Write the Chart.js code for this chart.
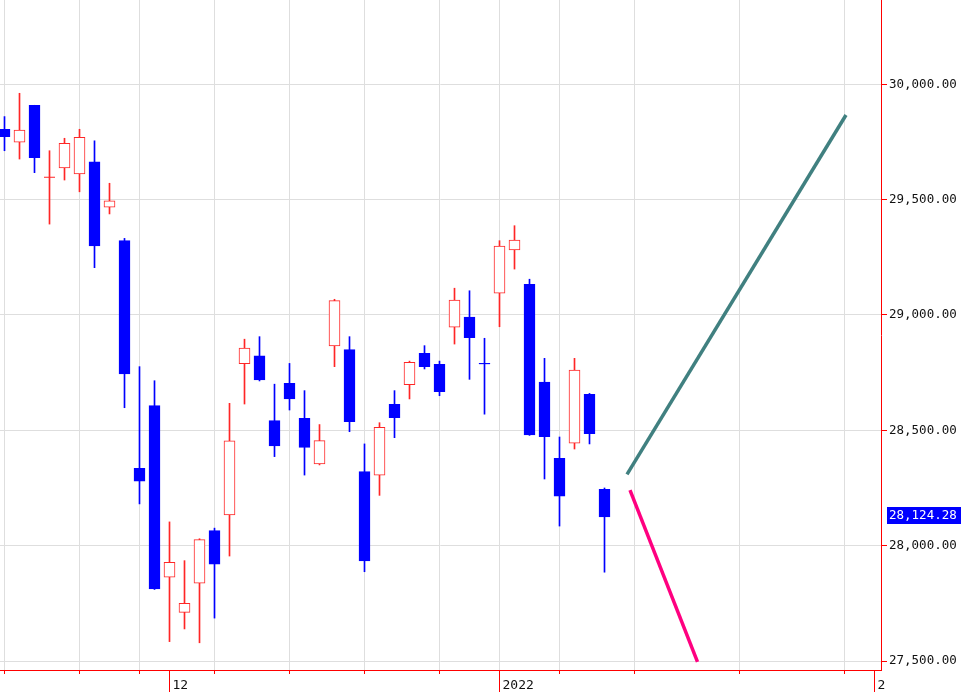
<!DOCTYPE html>
<html lang="ja">
<head>
<meta charset="UTF-8">
<title>日足チャート</title>
<script src="https://cdn.jsdelivr.net/npm/chart.js@4.4.1/dist/chart.umd.min.js"></script>
<style>
  html, body { margin: 0; padding: 0; background: #fff; }
</style>
</head>
<body>
<canvas id="myChart" width="961" height="692"></canvas>
<script>
// trading days (one slot each on the x axis)
const dates = ['11/15','11/16','11/17','11/18','11/19','11/22','11/24','11/25','11/26','11/29','11/30',
  '12/1','12/2','12/3','12/6','12/7','12/8','12/9','12/10','12/13','12/14','12/15','12/16','12/17',
  '12/20','12/21','12/22','12/23','12/24','12/27','12/28','12/29','12/30',
  '1/4','1/5','1/6','1/7','1/11','1/12','1/13','1/14'];
const opens  = [29805,29749,29909,29597,29638,29612,29664,29467,29322,28335,28607,
  27863,27711,27837,28065,28133,28789,28823,28542,28704,28552,28354,28866,28850,
  28321,28306,28613,28698,28834,28786,28947,28991,28790,
  29094,29282,29133,28709,28379,28444,28656,28244];
const highs  = [29860,29961,29909,29712,29766,29805,29755,29571,29332,28776,28715,
  28103,27935,28030,28076,28617,28895,28906,28700,28790,28672,28525,29068,28906,
  28441,28533,28672,28800,28867,28800,29116,29105,28899,
  29322,29387,29155,28812,28471,28812,28660,28250];
const lows   = [29712,29676,29617,29394,29585,29534,29205,29438,28598,28181,27810,
  27584,27639,27579,27686,27955,28614,28714,28386,28588,28306,28350,28776,28494,
  27887,28218,28468,28636,28766,28650,28874,28721,28570,
  28949,29199,28478,28289,28085,28419,28441,27885];
const closes = [29773,29802,29682,29597,29744,29770,29299,29495,28744,28280,27812,
  27928,27750,28026,27920,28454,28856,28718,28432,28636,28426,28455,29062,28538,
  27934,28513,28555,28795,28776,28667,29065,28902,28789,
  29299,29325,28480,28472,28214,28761,28485,28124.28];

// projection lines (x in slots, future slots are calendar days)
const upLineSlots = [41.5, 56.1];
const upLineValues = [28309, 29867];
const downLineSlots = [41.7, 46.2];
const downLineValues = [28241, 27496];

// axis ticks
const gridSlots = [0, 5, 9, 14, 19, 24, 29, 33, 37, 42, 49, 56];
const monthSlots = [11, 33, 58];
const monthLabels = ['12', '2022', '2'];
const priceTicks = [27500, 28000, 28500, 29000, 29500, 30000];

const RED = '#ff2626';
const AXIS_RED = '#ff0000';
const BLUE = '#0000ff';
const GRID = '#dedede';
const AXIS_FONT = { family: 'DejaVu Sans Mono', size: 12.5 };

const isUp = dates.map((d, i) => closes[i] >= opens[i]);
const lastClose = closes[closes.length - 1];
const xTicks = [...new Set(gridSlots.concat(monthSlots))].sort((a, b) => a - b);

const dojiIdx = dates.map((d, i) => i).filter(i => Math.abs(closes[i] - opens[i]) < 4);

function noPad(s) {
  s.paddingTop = 0; s.paddingBottom = 0; s.paddingLeft = 0; s.paddingRight = 0;
}

const extras = {
  id: 'extras',
  afterDraw(chart) {
    const ctx = chart.ctx;
    const xs = chart.scales.x, ys = chart.scales.y;
    ctx.save();
    // long ticks at month starts
    ctx.strokeStyle = AXIS_RED;
    ctx.lineWidth = 1;
    monthSlots.forEach(s => {
      const px = Math.round(xs.getPixelForValue(s) - 0.5) + 0.5;
      ctx.beginPath();
      ctx.moveTo(px, xs.top);
      ctx.lineTo(px, chart.height);
      ctx.stroke();
    });
    // last price box
    const py = ys.getPixelForValue(lastClose);
    ctx.fillStyle = BLUE;
    ctx.fillRect(ys.left + 6, Math.round(py - 10), chart.width - ys.left - 6, 17);
    ctx.fillStyle = '#fff';
    ctx.font = AXIS_FONT.size + 'px ' + AXIS_FONT.family;
    ctx.textBaseline = 'middle';
    ctx.fillText(lastClose.toLocaleString('en-US', { minimumFractionDigits: 2 }), ys.left + 8, Math.round(py - 10) + 9);
    ctx.restore();
  }
};

new Chart(document.getElementById('myChart'), {
  type: 'bar',
  data: {
    datasets: [
      {
        type: 'line',
        data: upLineSlots.map((s, i) => ({ x: s, y: upLineValues[i] })),
        borderColor: '#408080',
        borderWidth: 3.5,
        pointRadius: 0,
        order: 0
      },
      {
        type: 'line',
        data: downLineSlots.map((s, i) => ({ x: s, y: downLineValues[i] })),
        borderColor: '#ff0080',
        borderWidth: 3.5,
        pointRadius: 0,
        order: 0
      },
      {
        type: 'line',
        showLine: false,
        data: dojiIdx.map(i => ({ x: i, y: closes[i] })),
        pointStyle: 'line',
        pointRadius: 5.5,
        pointBorderWidth: 1,
        pointBorderColor: dojiIdx.map(i => isUp[i] ? RED : BLUE),
        order: 1
      },
      {
        data: dates.map((d, i) => ({ x: i, y: [opens[i], closes[i]] })),
        backgroundColor: isUp.map(u => u ? '#ffffff' : BLUE),
        borderColor: isUp.map(u => u ? RED : BLUE),
        borderWidth: 1,
        borderSkipped: false,
        barThickness: 11,
        grouped: false,
        order: 2
      },
      {
        data: dates.map((d, i) => ({ x: i, y: [lows[i], highs[i]] })),
        backgroundColor: isUp.map(u => u ? RED : BLUE),
        borderWidth: 0,
        barThickness: 1,
        grouped: false,
        order: 3
      }
    ]
  },
  options: {
    responsive: false,
    animation: false,
    layout: { padding: 0, autoPadding: false },
    plugins: { legend: { display: false }, tooltip: { enabled: false } },
    scales: {
      x: {
        type: 'linear',
        min: -0.3,
        max: 58.4333,
        offset: false,
        afterBuildTicks: s => { s.ticks = xTicks.map(v => ({ value: v })); },
        afterFit: s => { s.height = 22; noPad(s); },
        grid: {
          offset: false,
          color: c => (c.tick && gridSlots.includes(c.tick.value)) ? GRID : 'rgba(0,0,0,0)',
          tickColor: AXIS_RED,
          tickLength: 4
        },
        border: { color: AXIS_RED, width: 1 },
        ticks: {
          autoSkip: false,
          maxRotation: 0,
          align: 'start',
          labelOffset: 3,
          padding: 4,
          color: '#111',
          font: { family: 'DejaVu Sans Mono', size: 13 },
          callback: v => {
            const k = monthSlots.indexOf(v);
            return k >= 0 ? monthLabels[k] : '';
          }
        }
      },
      y: {
        type: 'linear',
        position: 'right',
        min: 27461,
        max: 30365.4,
        afterBuildTicks: s => { s.ticks = priceTicks.map(v => ({ value: v })); },
        afterFit: s => { s.width = 80; noPad(s); },
        grid: { color: GRID, tickColor: AXIS_RED, tickLength: 6 },
        border: { color: AXIS_RED, width: 1 },
        ticks: {
          padding: 2,
          color: '#111',
          font: AXIS_FONT,
          callback: v => v.toLocaleString('en-US', { minimumFractionDigits: 2 })
        }
      }
    }
  },
  plugins: [extras]
});
</script>
</body>
</html>
